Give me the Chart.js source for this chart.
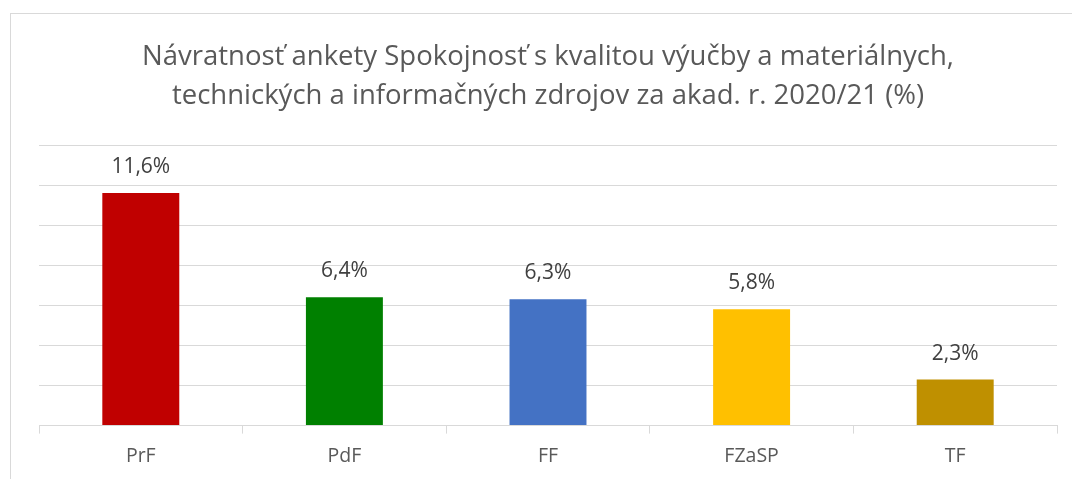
<!DOCTYPE html>
<html>
<head>
<meta charset="utf-8">
<script src="https://cdn.jsdelivr.net/npm/chart.js@4/dist/chart.umd.min.js"></script>
<style>
  html, body { margin: 0; padding: 0; background: #fff; }
  #wrap { position: relative; width: 1072px; height: 479px; overflow: hidden; }
  #frame {
    position: absolute; left: 10px; top: 13px; width: 1100px; height: 500px;
    border-top: 1px solid #d9d9d9; border-left: 1px solid #d9d9d9;
  }
  #chart { position: absolute; left: 0; top: 0; }
</style>
</head>
<body>
<div id="wrap">
  <div id="frame"></div>
  <canvas id="chart" width="1072" height="479"></canvas>
</div>
<script>
const titleLines = [
  "Návratnosť ankety Spokojnosť s kvalitou výučby a materiálnych,",
  "technických a informačných zdrojov za akad. r. 2020/21 (%)",
];
const faculties = ["PrF", "PdF", "FF", "FZaSP", "TF"];
const returnRate = [11.6, 6.4, 6.3, 5.8, 2.3];
const barColors = ["#C00000", "#008000", "#4472C4", "#FFC000", "#BF9000"];

const FONT = "'Open Sans', sans-serif";

// value labels above bars, e.g. "11,6%"
const valueLabels = {
  id: "valueLabels",
  afterDatasetsDraw(chart) {
    const ctx = chart.ctx;
    const meta = chart.getDatasetMeta(0);
    ctx.save();
    ctx.font = "21px " + FONT;
    ctx.fillStyle = "#404040";
    ctx.textAlign = "center";
    ctx.textBaseline = "alphabetic";
    meta.data.forEach((bar, i) => {
      const txt = returnRate[i].toFixed(1).replace(".", ",") + "%";
      ctx.fillText(txt, bar.x, bar.y - 20);
    });
    ctx.restore();
  },
};

function createChart() {
  let el = document.getElementById("chart");
  let ctx = el.getContext("2d");
  return new Chart(ctx, {
    type: "bar",
    data: {
      labels: faculties,
      datasets: [
        {
          data: returnRate,
          backgroundColor: barColors,
          borderWidth: 0,
          barPercentage: 0.378,
          categoryPercentage: 1,
        },
      ],
    },
    options: {
      responsive: false,
      animation: false,
      devicePixelRatio: 1,
      layout: { padding: { left: 39, right: 15, top: 0, bottom: 0 } },
      plugins: {
        legend: { display: false },
        tooltip: { enabled: false },
        title: {
          display: true,
          text: titleLines,
          color: "#595959",
          font: { family: FONT, size: 27.5, weight: "normal", lineHeight: "39px" },
          padding: { top: 38, bottom: 29 },
        },
      },
      scales: {
        x: {
          border: { color: "#d9d9d9", width: 1 },
          grid: {
            offset: true,
            drawOnChartArea: false,
            drawTicks: true,
            tickLength: 8,
            color: "#d9d9d9",
          },
          ticks: {
            color: "#595959",
            padding: 11,
            font: { family: FONT, size: 19.5 },
          },
        },
        y: {
          min: 0,
          max: 14,
          border: { display: false },
          grid: { color: "#d9d9d9", drawTicks: false },
          ticks: { display: false, stepSize: 2 },
        },
      },
    },
    plugins: [valueLabels],
  });
}

function main() {
  createChart();
}

main();
</script>
</body>
</html>
